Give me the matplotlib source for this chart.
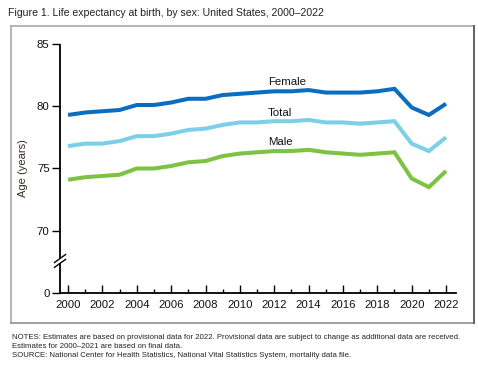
import matplotlib
matplotlib.use("Agg")
import matplotlib.pyplot as plt
import matplotlib.transforms as mtransforms
from matplotlib.lines import Line2D
from matplotlib.ticker import MultipleLocator

plt.rcParams['font.family'] = ['Liberation Sans', 'DejaVu Sans']

years = list(range(2000, 2023))
female = [79.3, 79.5, 79.6, 79.7, 80.1, 80.1, 80.3, 80.6, 80.6, 80.9, 81.0, 81.1,
          81.2, 81.2, 81.3, 81.1, 81.1, 81.1, 81.2, 81.4, 79.9, 79.3, 80.2]
total = [76.8, 77.0, 77.0, 77.2, 77.6, 77.6, 77.8, 78.1, 78.2, 78.5, 78.7, 78.7,
         78.8, 78.8, 78.9, 78.7, 78.7, 78.6, 78.7, 78.8, 77.0, 76.4, 77.5]
male = [74.1, 74.3, 74.4, 74.5, 75.0, 75.0, 75.2, 75.5, 75.6, 76.0, 76.2, 76.3,
        76.4, 76.4, 76.5, 76.3, 76.2, 76.1, 76.2, 76.3, 74.2, 73.5, 74.8]
series_names = ["Female", "Total", "Male"]
ytick_vals = [65, 70, 75, 80, 85]
ytick_labels = ["0", "70", "75", "80", "85"]
xtick_vals = list(range(2000, 2023, 2))

W, H = 478, 366
fig = plt.figure(figsize=(W / 100, H / 100), dpi=100)

# outer frame
def fx(px):
    return px / W
def fy(py):
    return 1 - py / H
light = '#a8a8a8'
dark = '#606060'
fig.add_artist(Line2D([fx(11), fx(474)], [fy(26), fy(26)], color=light, lw=1.2, transform=fig.transFigure))
fig.add_artist(Line2D([fx(11), fx(11)], [fy(26), fy(323)], color=light, lw=1.2, transform=fig.transFigure))
fig.add_artist(Line2D([fx(11), fx(474)], [fy(323), fy(323)], color='#909090', lw=1.2, transform=fig.transFigure))
fig.add_artist(Line2D([fx(474), fx(474)], [fy(26), fy(323)], color=dark, lw=1.4, transform=fig.transFigure))

fig.text(fx(8), fy(13), "Figure 1. Life expectancy at birth, by sex: United States, 2000\u20132022",
         fontsize=7.6, color='#222222', ha='left', va='center')

notes_lines = [
    "NOTES: Estimates are based on provisional data for 2022. Provisional data are subject to change as additional data are received.",
    "Estimates for 2000\u20132021 are based on final data.",
    "SOURCE: National Center for Health Statistics, National Vital Statistics System, mortality data file.",
]
for i, line in enumerate(notes_lines):
    fig.text(fx(12), fy(337.5 + 9 * i), line, fontsize=5.6, color='#222222', ha='left', va='center')

ax = fig.add_axes([60 / W, 1 - 293 / H, 396 / W, 249 / H])
colors = ['#0b6dc0', '#7ccfe9', '#7dc243']
for vals, c in zip([female, total, male], colors):
    ax.plot(years, vals, color=c, lw=2.9, solid_joinstyle='miter', solid_capstyle='butt')

ax.set_xlim(1999.53, 2022.58)
ax.set_ylim(65, 85)
ax.set_yticks(ytick_vals)
ax.set_yticklabels(ytick_labels)
ax.set_xticks(xtick_vals)
ax.set_xticklabels([str(v) for v in xtick_vals])
ax.xaxis.set_minor_locator(MultipleLocator(1))
ax.tick_params(axis='x', which='major', direction='in', length=6, width=1, labelsize=8.2, pad=5, colors='black', labelcolor='#111111')
ax.tick_params(axis='x', which='minor', direction='in', length=3, width=1)
ax.tick_params(axis='y', which='major', direction='out', length=6, width=1, labelsize=8.2, pad=1.5, labelcolor='#111111')
for s in ['top', 'right', 'left']:
    ax.spines[s].set_visible(False)
ax.spines['bottom'].set_linewidth(1.3)

# broken y spine
tr = mtransforms.blended_transform_factory(ax.transAxes, ax.transData)
ax.plot([0, 0], [65, 67.38], color='black', lw=1.3, transform=tr, clip_on=False, solid_capstyle='butt')
ax.plot([0, 0], [67.77, 85], color='black', lw=1.3, transform=tr, clip_on=False, solid_capstyle='butt')
for yc in (67.38, 67.77):
    ax.plot([-0.014, 0.014], [yc - 0.32, yc + 0.32], color='black', lw=1.0, transform=tr, clip_on=False)

ax.set_ylabel("Age (years)", fontsize=8, color='#3a2a20', labelpad=6)

label_pos = [(2011.64, 81.95), (2011.64, 79.46), (2011.64, 77.13)]
for name, (lx, ly) in zip(series_names, label_pos):
    ax.text(lx, ly, name, fontsize=8.2, color='#111111', ha='left', va='center')

fig.savefig("out.png", dpi=100)
